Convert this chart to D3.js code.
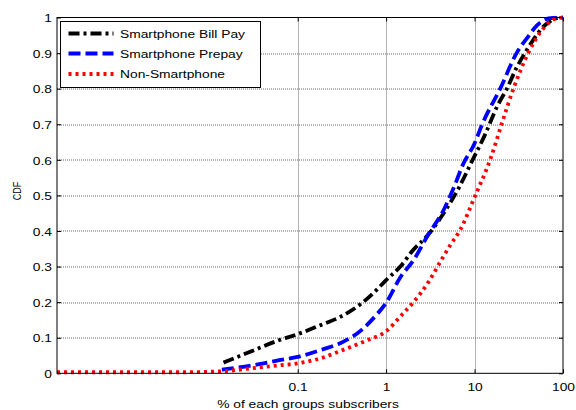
<!DOCTYPE html>
<html>
<head>
<meta charset="utf-8">
<script src="https://cdn.jsdelivr.net/npm/d3@7"></script>
<style>
  body { margin: 0; background: #fff; }
  svg text { font-family: Arial, "Liberation Sans", sans-serif; fill: #000; }
</style>
</head>
<body>
<svg id="chart" width="576" height="410"></svg>
<script>
// CDF of subscriber share (%), per subscriber group
const seriesNames = ["Smartphone Bill Pay", "Smartphone Prepay", "Non-Smartphone"];

const billPayX = [0.0145, 0.03, 0.06, 0.1, 0.18, 0.3, 0.53, 0.75, 1, 1.45, 2, 3, 4.47, 6.6, 9.3, 13.1, 18, 23.2, 30, 37.5, 47, 57.8, 72, 85, 100];
const billPayY = [0.03, 0.062, 0.092, 0.11, 0.135, 0.158, 0.197, 0.23, 0.262, 0.30, 0.345, 0.39, 0.45, 0.52, 0.595, 0.67, 0.75, 0.80, 0.86, 0.902, 0.94, 0.97, 0.99, 0.998, 1];

const prepayX = [0.0139, 0.03, 0.06, 0.1, 0.18, 0.33, 0.53, 0.75, 1, 1.45, 2.04, 3, 4.47, 5.78, 7.5, 10, 12.1, 19.5, 30.2, 40, 50.8, 72, 100];
const prepayY = [0.01, 0.022, 0.036, 0.046, 0.065, 0.089, 0.122, 0.16, 0.198, 0.27, 0.318, 0.39, 0.459, 0.52, 0.59, 0.646, 0.698, 0.80, 0.902, 0.945, 0.978, 0.998, 1];

const nonSmartX = [0.00019, 0.005, 0.0145, 0.03, 0.06, 0.1, 0.18, 0.36, 0.6, 1, 1.5, 2.04, 3.02, 4.2, 5.3, 6.89, 10, 15.1, 20.4, 27.6, 40.8, 60.3, 85, 100];
const nonSmartY = [0.003, 0.003, 0.006, 0.014, 0.022, 0.028, 0.042, 0.07, 0.092, 0.118, 0.164, 0.2, 0.257, 0.318, 0.36, 0.403, 0.495, 0.602, 0.703, 0.801, 0.902, 0.97, 0.998, 1];

const xTicks = [0.1, 1, 10, 100];
const xTickLabels = ["0.1", "1", "10", "100"];
const yTicks = [0, 0.1, 0.2, 0.3, 0.4, 0.5, 0.6, 0.7, 0.8, 0.9, 1];
const yTickLabels = ["0", "0.1", "0.2", "0.3", "0.4", "0.5", "0.6", "0.7", "0.8", "0.9", "1"];

const xDomain = [0.00019, 100];
const yDomain = [0, 1];

const styles = [
  { color: "#000000", dash: "11,4,3,4" },
  { color: "#0000ff", dash: "12,5" },
  { color: "#ff0000", dash: "3,4" }
];

const series = [
  { name: seriesNames[0], pts: billPayX.map((x, i) => [x, billPayY[i]]) },
  { name: seriesNames[1], pts: prepayX.map((x, i) => [x, prepayY[i]]) },
  { name: seriesNames[2], pts: nonSmartX.map((x, i) => [x, nonSmartY[i]]) }
];

const FONT = 11.7;      // text size
const WIDEN = 1.18;     // horizontal widening of the figure's lettering

const svg = d3.select("#chart");
const m = { left: 57, top: 17.5, right: 13, bottom: 36.7 };
const W = 576 - m.left - m.right;
const H = 410 - m.top - m.bottom;

const x = d3.scaleLog().domain(xDomain).range([0, W]);
const y = d3.scaleLinear().domain(yDomain).range([H, 0]);

const g = svg.append("g").attr("transform", `translate(${m.left},${m.top})`);

g.append("defs").append("clipPath").attr("id", "plotClip")
  .append("rect").attr("x", -2).attr("y", -2).attr("width", W + 4).attr("height", H + 4);

// dotted grid
const grid = g.append("g");
grid.selectAll("line.hy").data(yTicks.slice(1, -1)).join("line")
  .attr("x1", 0).attr("x2", W)
  .attr("y1", d => Math.round(y(d)) + 0.5).attr("y2", d => Math.round(y(d)) + 0.5)
  .attr("stroke", "#666").attr("stroke-width", 1).attr("stroke-dasharray", "1,1");
grid.selectAll("line.vx").data(xTicks.slice(0, -1)).join("line")
  .attr("y1", 0).attr("y2", H)
  .attr("x1", d => Math.round(x(d)) + 0.5).attr("x2", d => Math.round(x(d)) + 0.5)
  .attr("stroke", "#666").attr("stroke-width", 1).attr("stroke-dasharray", "1,1");

// axes with inward ticks
const xAxis = d3.axisBottom(x).tickValues(xTicks).tickSize(-4)
  .tickFormat((d, i) => xTickLabels[i]);
const yAxis = d3.axisLeft(y).tickValues(yTicks).tickSize(-4)
  .tickFormat((d, i) => yTickLabels[i]);
const xTop = d3.axisTop(x).tickValues(xTicks).tickSize(-4).tickFormat("");
const yRight = d3.axisRight(y).tickValues(yTicks).tickSize(-4).tickFormat("");

function styleAxis(sel) {
  sel.selectAll(".domain").remove();
  sel.selectAll("line").attr("stroke", "#000");
  sel.selectAll("text").attr("font-size", FONT).attr("fill", "#000");
}
g.append("g").attr("transform", `translate(0,${H})`).call(xAxis).call(styleAxis)
  .selectAll("text").attr("y", 17.8).attr("dy", null);
g.append("g").call(yAxis).call(styleAxis)
  .selectAll("text").attr("x", -5).attr("dy", null).attr("y", 4.2);
g.append("g").call(xTop).call(styleAxis);
g.append("g").attr("transform", `translate(${W},0)`).call(yRight).call(styleAxis);

// CDF curves
const line = d3.line().x(d => x(d[0])).y(d => y(d[1])).curve(d3.curveMonotoneX);
g.append("g").attr("clip-path", "url(#plotClip)")
  .selectAll("path").data(series).join("path")
  .attr("d", d => line(d.pts))
  .attr("fill", "none")
  .attr("stroke", (d, i) => styles[i].color)
  .attr("stroke-width", 3.8)
  .attr("stroke-dasharray", (d, i) => styles[i].dash);

// frame
g.append("rect").attr("x", 0).attr("y", 0).attr("width", W).attr("height", H)
  .attr("fill", "none").attr("stroke", "#000").attr("stroke-width", 1);

// legend
const lg = svg.append("g").attr("transform", "translate(60.5,21.5)");
lg.append("rect").attr("width", 200).attr("height", 66)
  .attr("fill", "#fff").attr("stroke", "#000").attr("stroke-width", 1);
const rowsY = [12, 32, 52.5];
series.forEach((s, i) => {
  lg.append("line").attr("x1", 8).attr("x2", 53).attr("y1", rowsY[i]).attr("y2", rowsY[i])
    .attr("stroke", styles[i].color).attr("stroke-width", 3.8)
    .attr("stroke-dasharray", styles[i].dash);
  lg.append("text").attr("class", "wide").attr("x", 59.5).attr("y", rowsY[i] + 4.3)
    .attr("font-size", FONT).text(s.name);
});

// axis titles
svg.append("text").attr("class", "wide").attr("x", 308).attr("y", 407.5)
  .attr("text-anchor", "middle").attr("font-size", FONT).text("% of each groups subscribers");
svg.append("text").attr("transform", "translate(20.5,191) rotate(-90) scale(1,1.18)")
  .attr("text-anchor", "middle").attr("font-size", 9).text("CDF");

// widen horizontal lettering
svg.selectAll(".tick text").attr("class", "wide");
svg.selectAll("text.wide").each(function () {
  const len = this.getComputedTextLength();
  if (len > 0) {
    d3.select(this).attr("textLength", len * WIDEN).attr("lengthAdjust", "spacingAndGlyphs");
  }
});
</script>
</body>
</html>
